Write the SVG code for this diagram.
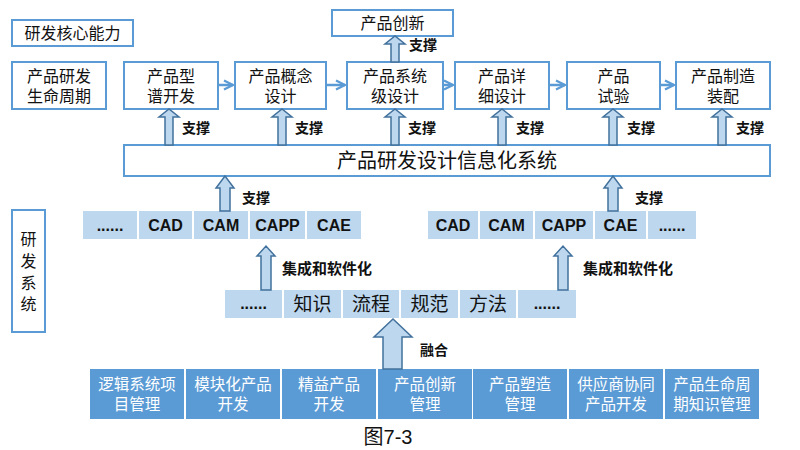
<svg xmlns="http://www.w3.org/2000/svg" width="800" height="450" viewBox="0 0 800 450">
<defs>
<style>
.box{fill:#fff;stroke:#5b9bd5;stroke-width:2}
.lt{fill:#bdd7ee}
.dk{fill:#5b9bd5}
.cn{font-family:"Liberation Serif","Noto Sans CJK SC",sans-serif;fill:#111}
.t16{font-size:16px;text-anchor:middle}
.lbl{font-size:14px;font-weight:bold}
.en{font-family:"Liberation Sans",Arial,sans-serif;font-weight:bold;font-size:16px;text-anchor:middle;fill:#111}
.wt{font-family:"Liberation Serif","Noto Sans CJK SC",sans-serif;font-size:15.5px;text-anchor:middle;fill:#fff}
.blk{fill:#bdd7ee;stroke:#41719c;stroke-width:1.5}
.conn{stroke:#5b9bd5;stroke-width:2.5;fill:none}
</style>
<marker id="ah" viewBox="0 0 10 10" refX="9" refY="5" markerWidth="4.5" markerHeight="4.5" orient="auto" markerUnits="strokeWidth">
<path d="M1,1 L9,5 L1,9" fill="none" stroke="#5b9bd5" stroke-width="2"/>
</marker>
</defs>
<rect width="800" height="450" fill="#fff"/>

<g id="core-ability"><rect class="box" x="12" y="20" width="121" height="26"/><text class="cn t16" x="72.5" y="39">研发核心能力</text></g>
<g id="lifecycle"><rect class="box" x="12" y="62" width="94" height="47"/><text class="cn t16" y="82"><tspan x="59">产品研发</tspan><tspan x="59" dy="20">生命周期</tspan></text></g>
<g id="innovation"><rect class="box" x="332" y="10" width="121" height="26"/><text class="cn t16" x="392.5" y="29">产品创新</text></g>

<g id="step1"><rect class="box" x="124" y="62" width="94" height="47"/><text class="cn t16" y="82"><tspan x="171">产品型</tspan><tspan x="171" dy="20">谱开发</tspan></text></g>
<g id="step2"><rect class="box" x="235" y="62" width="91" height="47"/><text class="cn t16" y="82"><tspan x="280.5">产品概念</tspan><tspan x="280.5" dy="20">设计</tspan></text></g>
<g id="step3"><rect class="box" x="347" y="62" width="96" height="47"/><text class="cn t16" y="82"><tspan x="395">产品系统</tspan><tspan x="395" dy="20">级设计</tspan></text></g>
<g id="step4"><rect class="box" x="455" y="62" width="94" height="47"/><text class="cn t16" y="82"><tspan x="502">产品详</tspan><tspan x="502" dy="20">细设计</tspan></text></g>
<g id="step5"><rect class="box" x="567" y="62" width="93" height="47"/><text class="cn t16" y="82"><tspan x="613.5">产品</tspan><tspan x="613.5" dy="20">试验</tspan></text></g>
<g id="step6"><rect class="box" x="676" y="62" width="94" height="47"/><text class="cn t16" y="82"><tspan x="723">产品制造</tspan><tspan x="723" dy="20">装配</tspan></text></g>

<g id="info-system"><rect class="box" x="124" y="145" width="646" height="31"/><text class="cn" x="447" y="168" font-size="20" text-anchor="middle">产品研发设计信息化系统</text></g>

<g id="rd-system"><rect class="box" x="12" y="210" width="33" height="122"/>
<text class="cn t16" y="245"><tspan x="28.5">研</tspan><tspan x="28.5" dy="22">发</tspan><tspan x="28.5" dy="22">系</tspan><tspan x="28.5" dy="21">统</tspan></text></g>

<g id="tools-left">
<rect class="lt" x="83" y="211" width="54" height="28"/><text class="en" x="110" y="231">......</text>
<rect class="lt" x="139" y="211" width="53" height="28"/><text class="en" x="165.5" y="231">CAD</text>
<rect class="lt" x="194" y="211" width="54" height="28"/><text class="en" x="221" y="231">CAM</text>
<rect class="lt" x="250" y="211" width="55" height="28"/><text class="en" x="277.5" y="231">CAPP</text>
<rect class="lt" x="307" y="211" width="54" height="28"/><text class="en" x="334" y="231">CAE</text>
</g>
<g id="tools-right">
<rect class="lt" x="428" y="211" width="50" height="28"/><text class="en" x="453" y="231">CAD</text>
<rect class="lt" x="480" y="211" width="53" height="28"/><text class="en" x="506.5" y="231">CAM</text>
<rect class="lt" x="535" y="211" width="58" height="28"/><text class="en" x="564" y="231">CAPP</text>
<rect class="lt" x="595" y="211" width="51" height="28"/><text class="en" x="620.5" y="231">CAE</text>
<rect class="lt" x="648" y="211" width="48" height="28"/><text class="en" x="672" y="231">......</text>
</g>

<g id="knowledge">
<rect class="lt" x="225" y="290" width="57" height="28"/><text class="en" x="253.5" y="309">......</text>
<rect class="lt" x="284" y="290" width="57" height="28"/><text class="cn" x="312.5" y="311" font-size="19" text-anchor="middle">知识</text>
<rect class="lt" x="343" y="290" width="56" height="28"/><text class="cn" x="371" y="311" font-size="19" text-anchor="middle">流程</text>
<rect class="lt" x="401" y="290" width="57" height="28"/><text class="cn" x="429.5" y="311" font-size="19" text-anchor="middle">规范</text>
<rect class="lt" x="460" y="290" width="56" height="28"/><text class="cn" x="488" y="311" font-size="19" text-anchor="middle">方法</text>
<rect class="lt" x="518" y="290" width="58" height="28"/><text class="en" x="547" y="309">......</text>
</g>

<g id="methods">
<rect class="dk" x="90" y="369" width="94" height="50"/><text class="wt" y="390"><tspan x="137">逻辑系统项</tspan><tspan x="137" dy="20">目管理</tspan></text>
<rect class="dk" x="186" y="369" width="94" height="50"/><text class="wt" y="390"><tspan x="233">模块化产品</tspan><tspan x="233" dy="20">开发</tspan></text>
<rect class="dk" x="282" y="369" width="94" height="50"/><text class="wt" y="390"><tspan x="329">精益产品</tspan><tspan x="329" dy="20">开发</tspan></text>
<rect class="dk" x="378" y="369" width="94" height="50"/><text class="wt" y="390"><tspan x="425">产品创新</tspan><tspan x="425" dy="20">管理</tspan></text>
<rect class="dk" x="473" y="369" width="94" height="50"/><text class="wt" y="390"><tspan x="520">产品塑造</tspan><tspan x="520" dy="20">管理</tspan></text>
<rect class="dk" x="569" y="369" width="94" height="50"/><text class="wt" y="390"><tspan x="616">供应商协同</tspan><tspan x="616" dy="20">产品开发</tspan></text>
<rect class="dk" x="665" y="369" width="94" height="50"/><text class="wt" y="390"><tspan x="712">产品生命周</tspan><tspan x="712" dy="20">期知识管理</tspan></text>
</g>

<g id="connectors">
<line class="conn" x1="218" y1="85" x2="233" y2="85" marker-end="url(#ah)"/>
<line class="conn" x1="326" y1="85" x2="345" y2="85" marker-end="url(#ah)"/>
<line class="conn" x1="443" y1="85" x2="453" y2="85" marker-end="url(#ah)"/>
<line class="conn" x1="549" y1="85" x2="565" y2="85" marker-end="url(#ah)"/>
<line class="conn" x1="660" y1="85" x2="674" y2="85" marker-end="url(#ah)"/>

<path class="blk" d="M391,62 V44 H385 L395,36 L405,44 H399 V62 Z"/>
<path class="blk" d="M165,145 V117 H159 L169,109 L179,117 H173 V145 Z"/>
<path class="blk" d="M278,145 V117 H272 L282,109 L292,117 H286 V145 Z"/>
<path class="blk" d="M391,145 V117 H385 L395,109 L405,117 H399 V145 Z"/>
<path class="blk" d="M498,145 V117 H492 L502,109 L512,117 H506 V145 Z"/>
<path class="blk" d="M609,145 V117 H603 L613,109 L623,117 H617 V145 Z"/>
<path class="blk" d="M718,145 V117 H712 L722,109 L732,117 H726 V145 Z"/>

<path class="blk" d="M220,211 V188 H216 L225,176 L234,188 H230 V211 Z"/>
<path class="blk" d="M608,211 V188 H604 L613,176 L622,188 H618 V211 Z"/>

<path class="blk" d="M261,290 V256 H257 L266,246 L275,256 H271 V290 Z"/>
<path class="blk" d="M558,290 V256 H554 L563,246 L572,256 H568 V290 Z"/>

<path class="blk" d="M383,369 V337 H374 L393,319 L412,337 H402 V369 Z"/>

<text class="cn lbl" x="409" y="50">支撑</text>
<text class="cn lbl" x="182" y="133">支撑</text>
<text class="cn lbl" x="295" y="133">支撑</text>
<text class="cn lbl" x="408" y="133">支撑</text>
<text class="cn lbl" x="516" y="133">支撑</text>
<text class="cn lbl" x="627" y="133">支撑</text>
<text class="cn lbl" x="736" y="133">支撑</text>
<text class="cn lbl" x="242" y="203">支撑</text>
<text class="cn lbl" x="635" y="203">支撑</text>
<text class="cn" x="282" y="274" font-size="15" font-weight="bold">集成和软件化</text>
<text class="cn" x="583" y="274" font-size="15" font-weight="bold">集成和软件化</text>
<text class="cn lbl" x="420" y="355">融合</text>
</g>

<text x="388" y="444" font-family="'Liberation Sans','Noto Sans CJK SC',sans-serif" font-size="20" text-anchor="middle" fill="#111">图7-3</text>
</svg>
